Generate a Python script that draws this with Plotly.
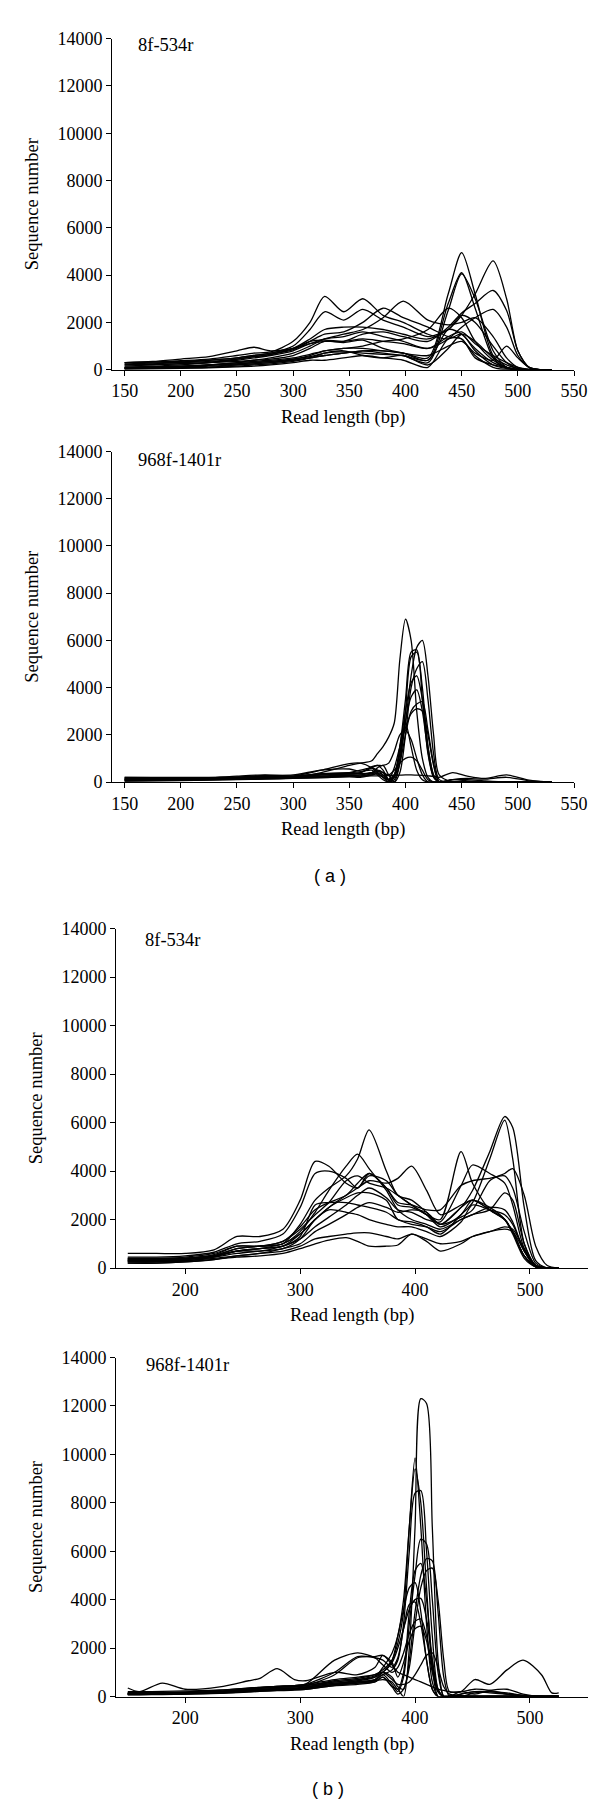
import plotly.graph_objects as go

W, H = 600, 1801

# ---------------- Panel (a) 8f-534r ----------------
X1 = [150, 175, 200, 225, 250, 265, 280, 300, 315, 328, 345, 362, 380, 398, 420, 438, 450, 462, 478, 490, 500, 510, 520, 530]
A1 = [
    [300, 320, 380, 450, 600, 700, 750, 1200, 2000, 3100, 2450, 3000, 2300, 2000, 1500, 1300, 1500, 800, 200, 50, 0, 0, 0, 0],
    [250, 280, 320, 400, 500, 600, 700, 1000, 1700, 2450, 2100, 2550, 2100, 1800, 1400, 1700, 2300, 2000, 1000, 300, 50, 0, 0, 0],
    [100, 150, 200, 300, 450, 550, 650, 850, 1200, 1500, 1600, 2000, 2600, 2200, 1800, 1400, 1300, 600, 100, 0, 0, 0, 0, 0],
    [50, 80, 120, 200, 300, 400, 500, 700, 1000, 1300, 1500, 1700, 2200, 2900, 2100, 1900, 2000, 2200, 1400, 500, 100, 0, 0, 0],
    [50, 60, 80, 100, 200, 250, 300, 400, 500, 600, 700, 800, 800, 700, 500, 3200, 4950, 3200, 600, 100, 0, 0, 0, 0],
    [100, 120, 150, 200, 300, 350, 400, 500, 650, 800, 900, 900, 800, 700, 400, 2800, 4100, 2600, 500, 50, 0, 0, 0, 0],
    [80, 100, 130, 180, 250, 300, 350, 450, 550, 700, 750, 700, 650, 600, 300, 2500, 4050, 3000, 800, 100, 0, 0, 0, 0],
    [200, 250, 300, 350, 450, 550, 650, 900, 1300, 1700, 1800, 1800, 1700, 1500, 1300, 1700, 2300, 3200, 4600, 3000, 800, 100, 0, 0],
    [150, 200, 250, 300, 400, 500, 600, 800, 1100, 1200, 1200, 1500, 1600, 1400, 1200, 1800, 2400, 2800, 3350, 2500, 800, 100, 0, 0],
    [300, 320, 350, 400, 500, 600, 700, 900, 1200, 1250, 1200, 1300, 1200, 1100, 900, 1300, 1800, 2200, 2550, 1800, 600, 100, 0, 0],
    [100, 120, 150, 200, 250, 300, 350, 450, 600, 800, 900, 1000, 1200, 1300, 1700, 2600, 2200, 1200, 400, 100, 0, 0, 0, 0],
    [60, 80, 100, 150, 200, 250, 300, 400, 500, 600, 700, 800, 700, 600, 400, 1700, 1500, 900, 300, 100, 0, 0, 0, 0],
    [200, 220, 260, 300, 350, 400, 450, 600, 900, 1200, 1150, 1250, 900, 700, 600, 1000, 1200, 700, 400, 1000, 500, 100, 0, 0],
    [50, 60, 80, 100, 150, 200, 250, 350, 500, 700, 800, 600, 500, 600, 200, 900, 1500, 1200, 500, 200, 50, 0, 0, 0],
    [30, 40, 60, 80, 120, 150, 200, 300, 400, 400, 500, 600, 500, 400, 100, 1300, 1300, 500, 200, 100, 0, 0, 0, 0],
    [300, 350, 450, 550, 800, 950, 800, 900, 1100, 1300, 1400, 1600, 1400, 1200, 900, 1400, 1600, 1100, 600, 300, 100, 20, 0, 0],
]

# ---------------- Panel (a) 968f-1401r ----------------
X2 = [150, 175, 200, 225, 250, 275, 300, 325, 350, 360, 370, 375, 380, 385, 390, 395, 400, 405, 410, 415, 420, 425, 430, 442, 455, 470, 490, 510, 530]
A2 = [
    [100, 110, 130, 150, 200, 250, 200, 400, 700, 800, 900, 1200, 1500, 1900, 2500, 5200, 6900, 6000, 3000, 1000, 200, 0, 0, 0, 0, 0, 0, 0, 0],
    [150, 150, 160, 180, 250, 300, 250, 350, 400, 500, 600, 500, 300, 100, 200, 1000, 2500, 4500, 5700, 6000, 4500, 2000, 300, 0, 0, 0, 0, 0, 0],
    [200, 180, 170, 180, 200, 280, 300, 500, 550, 450, 500, 300, 100, 0, 200, 1500, 3500, 5500, 5600, 3500, 1200, 200, 0, 100, 100, 50, 0, 0, 0],
    [120, 120, 130, 150, 200, 250, 250, 350, 400, 400, 600, 700, 500, 100, 0, 800, 3000, 5300, 5500, 4000, 1500, 300, 0, 0, 0, 0, 0, 0, 0],
    [100, 100, 120, 140, 180, 200, 200, 300, 350, 350, 400, 600, 700, 300, 0, 400, 2000, 4000, 4800, 5100, 3500, 1200, 100, 0, 0, 0, 0, 0, 0],
    [80, 90, 100, 120, 150, 180, 200, 250, 300, 300, 400, 500, 400, 100, 300, 1500, 3000, 4200, 4500, 3500, 1500, 300, 0, 0, 0, 0, 0, 0, 0],
    [60, 70, 80, 100, 120, 150, 180, 230, 280, 250, 300, 350, 200, 0, 300, 1200, 2600, 3600, 3900, 3000, 1300, 200, 0, 100, 50, 0, 0, 0, 0],
    [50, 60, 70, 90, 110, 130, 160, 200, 250, 250, 350, 400, 300, 50, 100, 800, 2000, 3000, 3300, 3400, 2200, 800, 0, 0, 0, 0, 0, 0, 0],
    [40, 50, 60, 80, 100, 120, 150, 180, 220, 200, 300, 350, 200, 100, 600, 1500, 2300, 2900, 3100, 3000, 2000, 700, 0, 0, 0, 0, 0, 0, 0],
    [100, 100, 110, 130, 150, 180, 200, 300, 350, 400, 650, 700, 700, 800, 1300, 2000, 2200, 1800, 1000, 300, 0, 0, 0, 0, 0, 0, 0, 0, 0],
    [130, 130, 140, 160, 180, 200, 220, 300, 350, 350, 400, 450, 400, 300, 500, 800, 1000, 1050, 900, 500, 100, 0, 0, 0, 0, 0, 0, 0, 0],
    [200, 200, 200, 200, 210, 220, 220, 230, 250, 250, 260, 260, 260, 270, 280, 290, 300, 300, 290, 280, 260, 240, 200, 400, 250, 150, 300, 80, 0],
    [150, 140, 140, 150, 170, 200, 250, 500, 780, 800, 600, 400, 200, 100, 300, 1200, 2500, 1500, 500, 100, 0, 0, 0, 100, 150, 120, 200, 50, 0],
]

# ---------------- Panel (b) 8f-534r ----------------
X3 = [150, 175, 200, 225, 245, 265, 285, 300, 313, 325, 340, 350, 360, 375, 385, 397, 410, 422, 440, 450, 465, 478, 485, 495, 505, 515, 525]
B1 = [
    [400, 400, 450, 600, 900, 900, 1000, 1800, 2800, 3300, 3800, 4500, 5700, 4000, 3000, 2800, 2300, 1800, 2500, 2800, 2400, 2000, 1500, 500, 100, 0, 0],
    [300, 300, 350, 500, 800, 900, 1100, 1700, 2400, 2700, 3000, 3500, 3900, 3300, 2600, 2500, 2200, 1800, 2500, 3200, 4800, 6250, 5800, 2500, 300, 0, 0],
    [250, 250, 300, 450, 700, 800, 900, 1400, 2000, 2500, 2900, 3100, 3100, 2800, 2000, 1900, 1700, 1400, 2200, 2700, 4500, 6100, 4500, 1000, 100, 0, 0],
    [600, 600, 600, 750, 1300, 1300, 1600, 2800, 4400, 4200, 3500, 3300, 3800, 3600, 3000, 2600, 2200, 1700, 2200, 2800, 2400, 2000, 1500, 500, 50, 0, 0],
    [450, 450, 500, 650, 1000, 1100, 1400, 2500, 3900, 4000, 3700, 3300, 3900, 3300, 2700, 2600, 2400, 2400, 3400, 3600, 3700, 3800, 3300, 1500, 200, 0, 0],
    [350, 350, 400, 550, 900, 900, 1100, 1600, 2200, 2700, 3600, 3800, 3500, 3300, 3000, 2600, 2200, 2000, 4800, 3500, 2400, 2000, 1500, 500, 50, 0, 0],
    [300, 300, 350, 500, 800, 900, 1000, 1500, 2300, 3200, 4200, 4700, 4100, 3200, 2400, 2000, 1800, 1600, 2000, 2200, 2500, 2400, 1900, 700, 50, 0, 0],
    [400, 400, 400, 500, 700, 800, 1000, 1400, 2000, 2500, 3000, 3300, 3600, 3500, 3700, 4200, 3200, 2200, 2600, 2800, 2500, 2000, 1400, 400, 50, 0, 0],
    [350, 350, 400, 500, 700, 700, 900, 1200, 1700, 2100, 2600, 3000, 3300, 2900, 2400, 2300, 2000, 1900, 3400, 4250, 3900, 3500, 2600, 800, 100, 0, 0],
    [200, 200, 250, 350, 500, 600, 800, 1000, 1500, 1800, 2200, 2500, 2700, 2500, 2300, 2400, 2300, 1800, 2100, 2400, 3600, 3900, 4100, 3000, 900, 100, 0],
    [250, 250, 300, 400, 500, 600, 700, 900, 1200, 1300, 1400, 1450, 1450, 1300, 1200, 1400, 1200, 1000, 1100, 1300, 1500, 1700, 1600, 800, 100, 0, 0],
    [200, 200, 250, 350, 450, 500, 600, 800, 1000, 1150, 1250, 1100, 900, 900, 950, 1400, 1100, 700, 1000, 1300, 1500, 1600, 1500, 700, 100, 0, 0],
    [300, 300, 350, 450, 600, 700, 800, 1200, 2000, 2400, 2300, 2200, 2000, 1800, 1700, 1700, 1500, 1300, 1900, 2600, 2400, 2200, 1800, 700, 50, 0, 0],
    [350, 350, 400, 500, 700, 800, 900, 1300, 2600, 2700, 2700, 2600, 2500, 2300, 2000, 1800, 1700, 1500, 2000, 2200, 2400, 3100, 2800, 1000, 100, 0, 0],
]

# ---------------- Panel (b) 968f-1401r ----------------
X4 = [150, 160, 180, 200, 230, 255, 265, 280, 295, 305, 330, 350, 365, 372, 380, 385, 390, 395, 400, 405, 410, 415, 420, 425, 430, 440, 452, 465, 480, 494, 510, 519, 525]
B2 = [
    [100, 100, 120, 140, 180, 250, 280, 300, 320, 350, 500, 550, 600, 800, 400, 300, 0, 2000, 7000, 12300, 12100, 7000, 1500, 0, 0, 0, 0, 0, 0, 0, 0, 0, 0],
    [150, 150, 150, 160, 200, 300, 350, 400, 400, 450, 600, 700, 800, 1000, 1500, 2200, 3500, 7000, 9850, 7000, 3000, 600, 0, 0, 0, 0, 0, 0, 0, 0, 0, 0, 0],
    [120, 120, 130, 140, 180, 260, 300, 330, 350, 400, 550, 650, 800, 1200, 1800, 2500, 4000, 7000, 9400, 8000, 4500, 1200, 0, 0, 0, 0, 0, 0, 0, 0, 0, 0, 0],
    [100, 100, 110, 120, 160, 220, 250, 280, 300, 350, 500, 600, 700, 900, 1100, 1500, 3000, 6000, 8400, 8500, 6000, 2500, 300, 0, 0, 0, 0, 0, 0, 0, 0, 0, 0],
    [80, 80, 90, 100, 140, 200, 230, 250, 280, 300, 450, 550, 650, 900, 500, 200, 800, 3000, 5000, 6500, 6300, 4000, 1000, 0, 0, 0, 0, 0, 0, 0, 0, 0, 0],
    [90, 90, 100, 120, 150, 220, 250, 280, 300, 350, 500, 600, 700, 1000, 800, 400, 300, 1500, 3500, 5000, 5700, 5600, 3500, 800, 0, 100, 200, 150, 100, 50, 0, 0, 0],
    [110, 110, 120, 130, 170, 240, 270, 300, 320, 380, 550, 600, 650, 700, 600, 300, 1000, 3500, 5200, 5500, 4000, 1500, 200, 0, 0, 0, 0, 0, 0, 0, 0, 0, 0],
    [70, 70, 80, 100, 130, 180, 210, 240, 260, 300, 450, 500, 600, 800, 400, 100, 300, 1200, 3000, 4500, 5200, 5300, 4000, 1500, 200, 200, 300, 250, 100, 0, 0, 0, 0],
    [130, 130, 140, 150, 200, 300, 350, 380, 400, 450, 650, 750, 900, 1100, 1500, 2500, 3600, 4500, 4700, 3500, 1500, 300, 0, 0, 0, 0, 0, 0, 0, 0, 0, 0, 0],
    [100, 100, 110, 130, 170, 250, 290, 320, 350, 400, 600, 700, 850, 1000, 1400, 2000, 2800, 3600, 4000, 4050, 3200, 1500, 300, 0, 0, 100, 200, 200, 150, 50, 0, 0, 0],
    [140, 140, 150, 170, 220, 330, 370, 420, 450, 500, 1000, 1650, 1600, 1500, 1200, 1600, 2800, 3800, 3900, 3000, 1500, 300, 0, 0, 0, 0, 0, 0, 0, 0, 0, 0, 0],
    [160, 160, 170, 190, 250, 350, 380, 420, 450, 520, 1500, 1800, 1600, 1300, 1000, 1200, 1800, 2600, 3100, 3200, 2500, 1200, 200, 0, 0, 200, 100, 250, 300, 100, 0, 0, 0],
    [120, 120, 130, 150, 200, 300, 340, 380, 400, 450, 900, 1600, 1650, 1700, 1400, 800, 1400, 2300, 2800, 2900, 2300, 1000, 200, 0, 0, 0, 150, 200, 100, 0, 0, 0, 0],
    [200, 200, 210, 230, 270, 350, 380, 420, 450, 500, 700, 800, 900, 1000, 700, 500, 500, 600, 900, 1300, 1700, 1800, 1200, 400, 100, 50, 0, 0, 0, 0, 0, 0, 0],
    [350, 200, 550, 300, 400, 650, 750, 1150, 700, 650, 1000, 900, 1200, 1700, 1300, 1000, 900, 800, 700, 600, 500, 400, 300, 250, 200, 200, 700, 500, 1100, 1500, 900, 150, 150],
]

YTICKS = [0, 2000, 4000, 6000, 8000, 10000, 12000, 14000]
XTICKS_A = [150, 200, 250, 300, 350, 400, 450, 500, 550]
XTICKS_B = [200, 300, 400, 500]

SERIF = "Liberation Serif"
TICKFONT = dict(family=SERIF, size=18, color="black")
TITLEFONT = dict(family=SERIF, size=18.5, color="black")

fig = go.Figure()

panels = [
    (X1, A1, "x", "y"),
    (X2, A2, "x2", "y2"),
    (X3, B1, "x3", "y3"),
    (X4, B2, "x4", "y4"),
]
for xs, series, xa, ya in panels:
    for ys in series:
        fig.add_trace(go.Scatter(
            x=xs, y=ys, mode="lines", xaxis=xa, yaxis=ya,
            line=dict(color="black", width=1.3, shape="spline", smoothing=0.8),
            showlegend=False, hoverinfo="skip",
        ))

def ydom(bottom_px, top_px):
    return [1 - bottom_px / H, 1 - top_px / H]

xd_a = [104.3 / W, 566 / W]
xd_b = [108.3 / W, 580 / W]

ycommon = dict(range=[0, 14000], tickvals=YTICKS, tickformat="d", automargin=False,
               showline=True, linecolor="black", linewidth=1.3, ticks="outside",
               ticklen=5, tickwidth=1.3, tickcolor="black", showgrid=False, zeroline=False,
               tickfont=TICKFONT,
               title=dict(text="Sequence number", font=TITLEFONT, standoff=14))
xcommon = dict(showline=True, linecolor="black", linewidth=1.3, ticks="outside", automargin=False,
               ticklen=5, tickwidth=1.3, tickcolor="black", showgrid=False, zeroline=False,
               tickfont=TICKFONT,
               title=dict(text="Read length (bp)", font=TITLEFONT, standoff=9))

fig.update_layout(
    width=W, height=H, paper_bgcolor="white", plot_bgcolor="white",
    margin=dict(l=0, r=0, t=0, b=0, autoexpand=False),
    xaxis=dict(domain=xd_a, range=[139, 550], tickvals=XTICKS_A, anchor="y", **xcommon),
    yaxis=dict(domain=ydom(361.7, 30.7), anchor="x", **ycommon),
    xaxis2=dict(domain=xd_a, range=[139, 550], tickvals=XTICKS_A, anchor="y2", **xcommon),
    yaxis2=dict(domain=ydom(774, 443.5), anchor="x2", **ycommon),
    xaxis3=dict(domain=xd_b, range=[140, 550.5], tickvals=XTICKS_B, anchor="y3", **xcommon),
    yaxis3=dict(domain=ydom(1260, 920.7), anchor="x3", **ycommon),
    xaxis4=dict(domain=xd_b, range=[140, 550.5], tickvals=XTICKS_B, anchor="y4", **xcommon),
    yaxis4=dict(domain=ydom(1688.5, 1349.5), anchor="x4", **ycommon),
)

ann_font = dict(family=SERIF, size=18.5, color="black")
fig.add_annotation(text="8f-534r", xref="paper", yref="paper", x=128 / W, y=1 - 37 / H,
                   xanchor="left", yanchor="middle", showarrow=False, font=ann_font)
fig.add_annotation(text="968f-1401r", xref="paper", yref="paper", x=128.3 / W, y=1 - 452 / H,
                   xanchor="left", yanchor="middle", showarrow=False, font=ann_font)
fig.add_annotation(text="8f-534r", xref="paper", yref="paper", x=134.5 / W, y=1 - 932 / H,
                   xanchor="left", yanchor="middle", showarrow=False, font=ann_font)
fig.add_annotation(text="968f-1401r", xref="paper", yref="paper", x=136 / W, y=1 - 1357 / H,
                   xanchor="left", yanchor="middle", showarrow=False, font=ann_font)
lab_font = dict(family="Liberation Sans", size=18, color="black")
fig.add_annotation(text="( a )", xref="paper", yref="paper", x=322 / W, y=1 - 868 / H,
                   xanchor="center", yanchor="middle", showarrow=False, font=lab_font)
fig.add_annotation(text="( b )", xref="paper", yref="paper", x=320 / W, y=1 - 1781 / H,
                   xanchor="center", yanchor="middle", showarrow=False, font=lab_font)

fig.write_html("out.html")
